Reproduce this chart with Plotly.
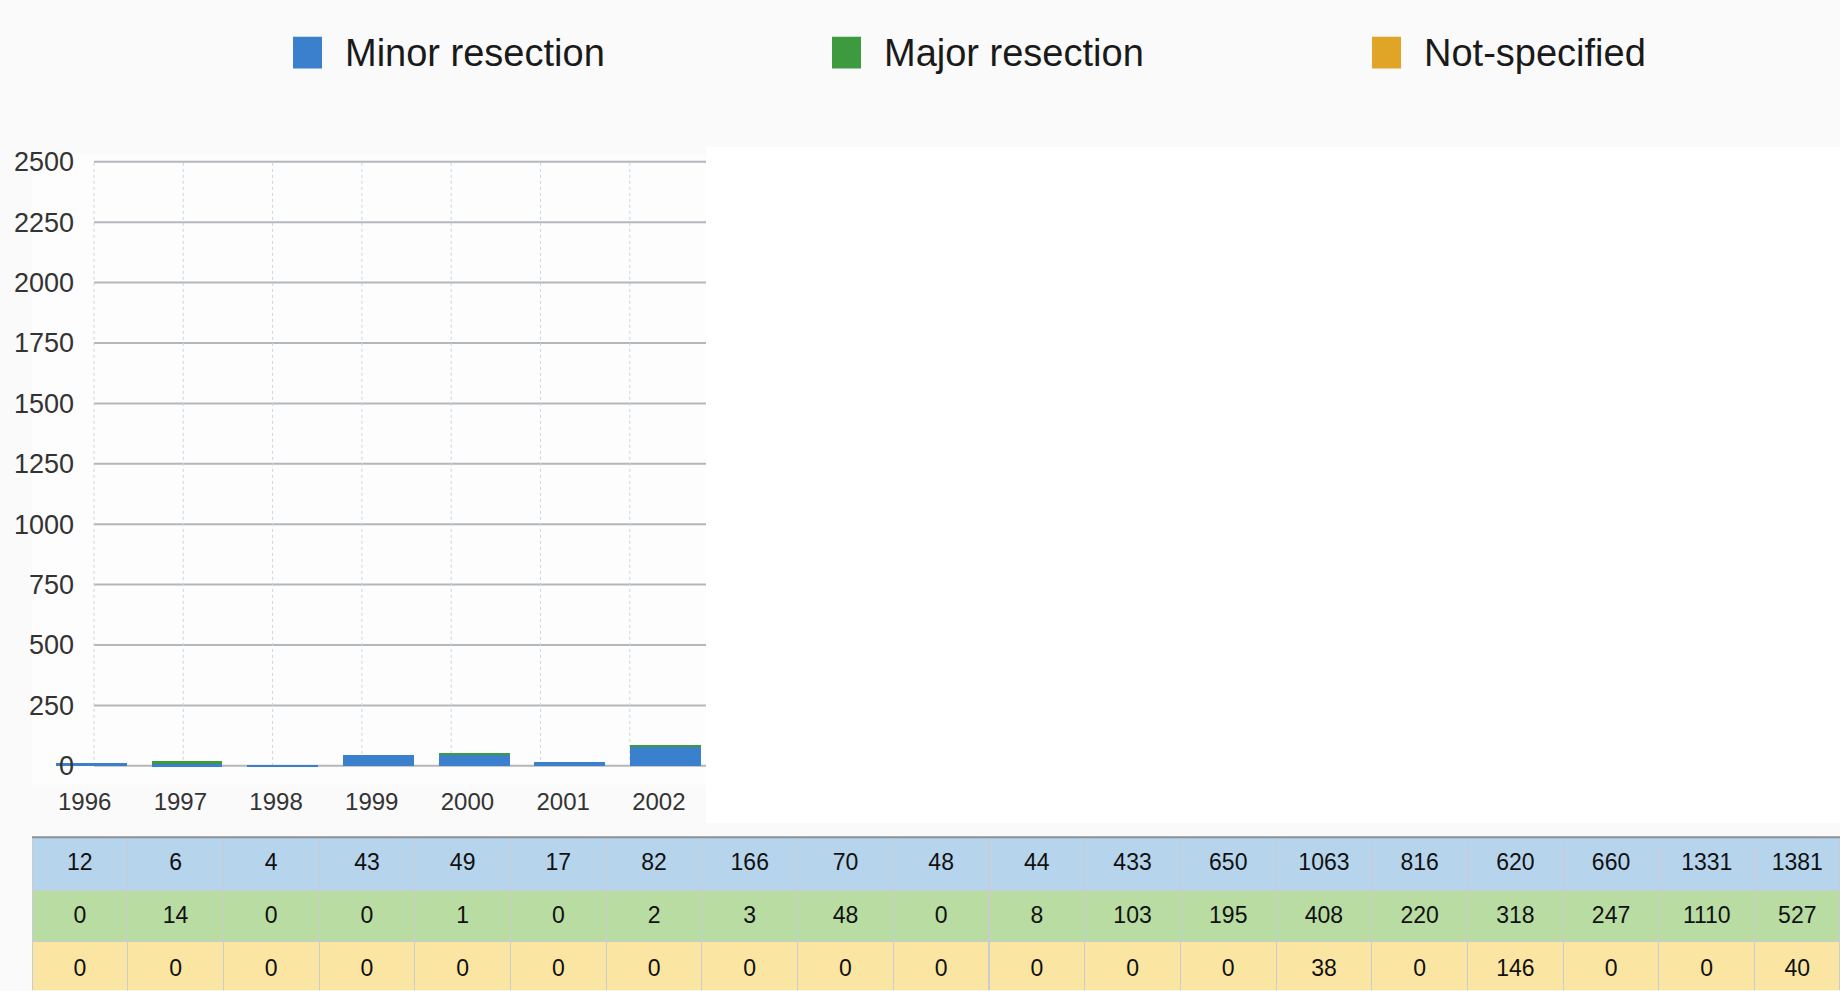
import plotly.graph_objects as go

W, H = 1840, 991

years = [str(y) for y in range(1996, 2015)]
minor = [12, 6, 4, 43, 49, 17, 82, 166, 70, 48, 44, 433, 650, 1063, 816, 620, 660, 1331, 1381]
major = [0, 14, 0, 0, 1, 0, 2, 3, 48, 0, 8, 103, 195, 408, 220, 318, 247, 1110, 527]
not_spec = [0, 0, 0, 0, 0, 0, 0, 0, 0, 0, 0, 0, 0, 38, 0, 146, 0, 0, 40]
series_names = ['Minor resection', 'Major resection', 'Not-specified']
y_ticks = [0, 250, 500, 750, 1000, 1250, 1500, 1750, 2000, 2250, 2500]

bar_cols = ['#3a80cd', '#3e9a3e', '#e0a526']
row_cols = ['#b6d4ec', '#b8dca2', '#fae6a2']
FONT = 'Liberation Sans, Arial'


def px(x):
    return x / W


def py(y):
    return 1 - y / H


# pixel geometry of the chart
col_w = 95.7
tab_left = 32
zero_px, top_px = 764, 155
per_px = (y_ticks[-1] - y_ticks[0]) / (zero_px - top_px)
dom_bot, dom_top = 783, 148

fig = go.Figure()
for name, vals, c in zip(series_names, [minor, major, not_spec], bar_cols):
    fig.add_trace(go.Bar(x=years, y=vals, name=name, marker_color=c, marker_line_width=0,
                         width=0.74, offset=-0.3, showlegend=False))

ncols = len(years)
colw = [col_w] * (ncols - 1) + [W - tab_left - col_w * (ncols - 1)]
tab_x = [px(tab_left), 1]
line_c = '#c9ccd0'

# table background (fills and borders)
fig.add_trace(go.Table(
    domain=dict(x=tab_x, y=[0, py(836)]),
    columnwidth=colw,
    header=dict(values=[''] * ncols, fill_color=row_cols[0], height=53,
                line=dict(color=line_c, width=1)),
    cells=dict(values=[['', '']] * ncols,
               fill_color=[[row_cols[1], row_cols[2]]] * ncols, height=51,
               line=dict(color=line_c, width=1)),
))

# table numbers, one row each so they sit in the middle of the rows
row_top = [836, 889, 942]
for vals, top in zip([minor, major, not_spec], row_top):
    h = min(53, H - (top + 8))
    fig.add_trace(go.Table(
        domain=dict(x=tab_x, y=[py(top + 8 + h), py(top + 8)]),
        columnwidth=colw,
        header=dict(values=[str(v) for v in vals], fill_color='rgba(0,0,0,0)', height=h,
                    line=dict(color='rgba(0,0,0,0)', width=0), align='center',
                    font=dict(family=FONT, size=23, color='#111')),
        cells=dict(values=[]),
    ))

shapes = []
# horizontal gridlines
for t in y_ticks:
    shapes.append(dict(type='line', xref='paper', yref='y', x0=px(94), x1=px(706), y0=t, y1=t,
                       line=dict(color='#b3b7bb', width=2), layer='below'))
# dotted vertical gridlines
for i in range(8):
    xx = px(94 + i * 89.3)
    shapes.append(dict(type='line', xref='paper', yref='y', x0=xx, x1=xx, y0=0, y1=y_ticks[-1],
                       line=dict(color='#c9d6e0', width=1, dash='dot'), layer='below'))
# white cover over the right part of the chart
shapes.append(dict(type='rect', xref='paper', yref='paper', x0=px(706), x1=1, y0=py(822), y1=py(140),
                   fillcolor='white', line=dict(width=0), layer='above'))
# table top border
shapes.append(dict(type='line', xref='paper', yref='paper', x0=px(tab_left), x1=1, y0=py(836), y1=py(836),
                   line=dict(color='#8e9296', width=2), layer='above'))

# legend drawn by hand
annotations = []
leg_x = [293, 832, 1372]
for name, c, lx in zip(series_names, bar_cols, leg_x):
    shapes.append(dict(type='rect', xref='paper', yref='paper', x0=px(lx), x1=px(lx + 29),
                       y0=py(61), y1=py(29), fillcolor=c, line=dict(width=0)))
    annotations.append(dict(x=px(lx + 50), y=py(45), xref='paper', yref='paper', text=name,
                            showarrow=False, xanchor='left', yanchor='middle',
                            font=dict(family=FONT, size=38, color='#1a1a1a')))

fig.update_layout(
    width=W, height=H,
    margin=dict(l=0, r=0, t=0, b=0),
    paper_bgcolor='#fafafa', plot_bgcolor='#fdfdfd',
    barmode='stack',
    shapes=shapes, annotations=annotations,
    showlegend=False,
    xaxis=dict(domain=[px(tab_left), 1], range=[-0.55, -0.55 + (W - tab_left) / col_w],
               type='category', showgrid=False, showline=False, zeroline=False, ticks='',
               tickfont=dict(family=FONT, size=24, color='#333'),
               ticklabelstandoff=0),
    yaxis=dict(domain=[py(dom_bot), py(dom_top)],
               range=[-(dom_bot - zero_px) * per_px, y_ticks[-1] + (top_px - dom_top) * per_px],
               anchor='free', position=px(94), tickvals=y_ticks,
               showgrid=False, zeroline=False, showline=False, ticks='',
               ticklabelstandoff=20,
               tickfont=dict(family=FONT, size=27, color='#333')),
)

fig.write_html("out.html", config={'displayModeBar': False},
               post_script="document.body.style.margin='0';")
